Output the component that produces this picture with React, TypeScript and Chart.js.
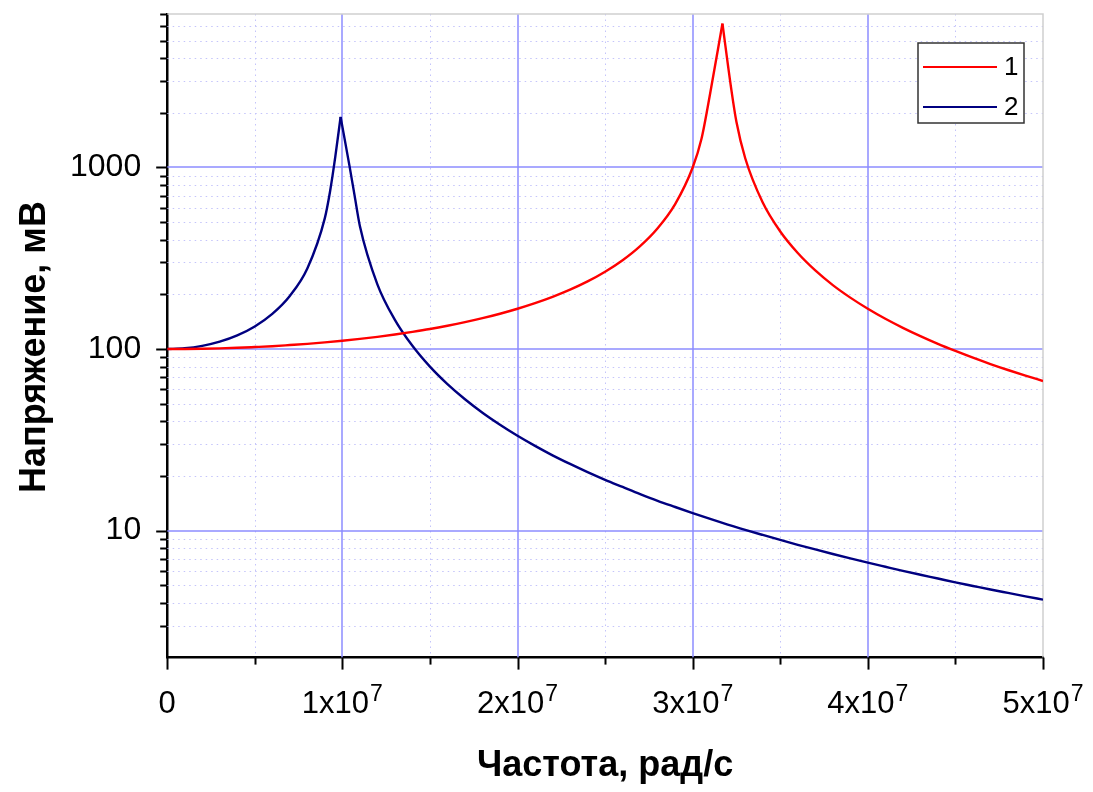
import React, { useEffect, useRef } from 'react';
import { Chart, registerables } from 'chart.js';

Chart.register(...registerables);

// Frequencies in units of 10^6 rad/s
const freq1M = [
  0, 1, 2, 3, 4, 5, 6, 7, 8, 9, 10, 11, 12, 13, 14, 15, 16, 17, 18, 19, 20,
  21, 22, 23, 24, 25, 26, 27, 28, 29, 30, 30.5, 31, 31.7, 32.2, 32.5, 33, 34,
  35, 36, 37, 38, 39, 40, 41, 42, 43, 44, 45, 46, 47, 48, 49, 50,
];
// Voltage, mV (curve 1)
const volt1 = [
  100, 100.1, 100.4, 100.9, 101.6, 102.6, 103.7, 105.2, 106.8, 108.8, 111.1,
  113.8, 116.8, 120.3, 124.4, 129.0, 134.4, 140.6, 147.9, 156.5, 166.7, 178.9,
  193.8, 212.3, 235.8, 266.7, 308.6, 369.0, 463.0, 628.9, 1000, 1434, 2564,
  6200, 2714, 1778, 1124, 641, 444, 338, 271, 225, 192, 166.7, 146.8, 130.9,
  117.8, 106.8, 97.6, 89.6, 82.7, 76.7, 71.4, 66.7,
];

const freq2M = [
  0, 1, 2, 3, 4, 5, 6, 7, 8, 9, 9.3, 9.6, 9.9, 10.4, 10.7, 11, 12, 13, 14, 15,
  16, 17, 18, 19, 20, 21, 22, 23, 24, 25, 26, 27, 28, 29, 30, 31, 32, 33, 34,
  35, 36, 37, 38, 39, 40, 41, 42, 43, 44, 45, 46, 47, 48, 49, 50,
];
// Voltage, mV (curve 2)
const volt2 = [
  100, 101.0, 104.2, 109.9, 119.0, 133.3, 156.3, 196.1, 277.8, 526.3, 740,
  1150, 1900, 1030, 700, 476.2, 227.3, 144.9, 104.2, 80.0, 64.1, 52.9, 44.6,
  38.3, 33.3, 29.3, 26.0, 23.3, 21.0, 19.05, 17.4, 15.9, 14.6, 13.5, 12.5,
  11.6, 10.8, 10.1, 9.47, 8.89, 8.36, 7.88, 7.44, 7.04, 6.67, 6.33, 6.01, 5.72,
  5.45, 5.19, 4.96, 4.74, 4.54, 4.35, 4.17,
];

const seriesLabels = ['1', '2'];
const seriesColors = ['#ff0000', '#000080'];
const xMajorTicks = [0, 1e7, 2e7, 3e7, 4e7, 5e7];
const xMinorTicks = [5e6, 1.5e7, 2.5e7, 3.5e7, 4.5e7];
const xTickBases = ['0', '1x10', '2x10', '3x10', '4x10', '5x10'];
const xTickExps = ['', '7', '7', '7', '7', '7'];
const yMajorTicks = [10, 100, 1000];
const yMinorTicks = [
  2, 3, 4, 5, 6, 7, 8, 9, 20, 30, 40, 50, 60, 70, 80, 90, 200, 300, 400, 500,
  600, 700, 800, 900, 2000, 3000, 4000, 5000, 6000, 7000,
];
const xTitle = 'Частота, рад/с';
const yTitle = 'Напряжение, мВ';

const FONT = "'Liberation Sans', Arial, Helvetica, sans-serif";

const isPow10 = (v: number) => {
  const l = Math.log10(v);
  return Math.abs(l - Math.round(l)) < 1e-9;
};

// Split a curve at its resonance peak so the peak stays pointed
// (each side drawn with monotone interpolation, sharing the peak point).
function splitAtPeak(freqM: number[], volt: number[]) {
  const pts = freqM.map((f, i) => ({ x: f * 1e6, y: volt[i] }));
  let k = 0;
  volt.forEach((v, i) => {
    if (v > volt[k]) k = i;
  });
  return [pts.slice(0, k + 1), pts.slice(k)];
}

const decorPlugin = {
  id: 'decor',
  beforeDatasetsDraw(chart: any) {
    const { ctx, chartArea } = chart;
    const xs = chart.scales.x;
    const ys = chart.scales.y;
    const { left, right, top, bottom } = chartArea;
    ctx.save();
    // minor dotted grid
    ctx.strokeStyle = 'rgb(196,196,250)';
    ctx.lineWidth = 1;
    ctx.setLineDash([1.5, 4]);
    xMinorTicks.forEach((v) => {
      const x = Math.round(xs.getPixelForValue(v)) + 0.5;
      ctx.beginPath();
      ctx.moveTo(x, top);
      ctx.lineTo(x, bottom);
      ctx.stroke();
    });
    yMinorTicks.forEach((v) => {
      const y = Math.round(ys.getPixelForValue(v)) + 0.5;
      if (y < top + 2 || y > bottom) return;
      ctx.beginPath();
      ctx.moveTo(left, y);
      ctx.lineTo(right, y);
      ctx.stroke();
    });
    // major grid
    ctx.setLineDash([]);
    ctx.strokeStyle = 'rgb(140,140,255)';
    ctx.lineWidth = 1.5;
    xMajorTicks.slice(1, -1).forEach((v) => {
      const x = Math.round(xs.getPixelForValue(v));
      ctx.beginPath();
      ctx.moveTo(x, top);
      ctx.lineTo(x, bottom);
      ctx.stroke();
    });
    yMajorTicks.forEach((v) => {
      const y = Math.round(ys.getPixelForValue(v));
      ctx.beginPath();
      ctx.moveTo(left, y);
      ctx.lineTo(right, y);
      ctx.stroke();
    });
    // top and right frame
    ctx.strokeStyle = '#cfcfcf';
    ctx.lineWidth = 1.5;
    ctx.beginPath();
    ctx.moveTo(left, top);
    ctx.lineTo(right, top);
    ctx.lineTo(right, bottom);
    ctx.stroke();
    ctx.restore();
  },
  afterDraw(chart: any) {
    const { ctx, chartArea } = chart;
    const xs = chart.scales.x;
    const ys = chart.scales.y;
    const { left, right, top, bottom } = chartArea;
    ctx.save();
    ctx.strokeStyle = '#000';
    ctx.lineWidth = 2;
    // y ticks (outward, left)
    yMajorTicks.forEach((v) => {
      const y = Math.round(ys.getPixelForValue(v)) + 0.5;
      ctx.beginPath();
      ctx.moveTo(left, y);
      ctx.lineTo(left - 11, y);
      ctx.stroke();
    });
    yMinorTicks.forEach((v) => {
      const y = Math.round(ys.getPixelForValue(v)) + 0.5;
      if (y < top - 1 || y > bottom) return;
      ctx.beginPath();
      ctx.moveTo(left, y);
      ctx.lineTo(left - 7, y);
      ctx.stroke();
    });
    // x ticks (outward, down)
    xMajorTicks.forEach((v) => {
      const x = Math.round(xs.getPixelForValue(v)) + 0.5;
      ctx.beginPath();
      ctx.moveTo(x, bottom);
      ctx.lineTo(x, bottom + 12);
      ctx.stroke();
    });
    xMinorTicks.forEach((v) => {
      const x = Math.round(xs.getPixelForValue(v)) + 0.5;
      ctx.beginPath();
      ctx.moveTo(x, bottom);
      ctx.lineTo(x, bottom + 7);
      ctx.stroke();
    });
    // x tick labels with superscript exponent
    ctx.fillStyle = '#000';
    ctx.textBaseline = 'alphabetic';
    ctx.textAlign = 'left';
    const baseFont = `31px ${FONT}`;
    const expFont = `23px ${FONT}`;
    xMajorTicks.forEach((v, i) => {
      const x = xs.getPixelForValue(v);
      ctx.font = baseFont;
      const wb = ctx.measureText(xTickBases[i]).width;
      ctx.font = expFont;
      const we = xTickExps[i] ? ctx.measureText(xTickExps[i]).width + 1 : 0;
      const x0 = x - (wb + we) / 2;
      ctx.font = baseFont;
      ctx.fillText(xTickBases[i], x0, bottom + 55);
      if (xTickExps[i]) {
        ctx.font = expFont;
        ctx.fillText(xTickExps[i], x0 + wb + 1, bottom + 43);
      }
    });
    // y axis title
    ctx.save();
    ctx.translate(35, 347);
    ctx.rotate(-Math.PI / 2);
    ctx.font = `bold 36px ${FONT}`;
    ctx.textAlign = 'center';
    ctx.textBaseline = 'middle';
    ctx.fillText(yTitle, 0, 0);
    ctx.restore();
    // legend
    const bx = right - 125;
    const by = top + 29;
    const bw = 106;
    const bh = 80;
    ctx.fillStyle = '#fff';
    ctx.fillRect(bx, by, bw, bh);
    ctx.strokeStyle = '#333';
    ctx.lineWidth = 1.5;
    ctx.strokeRect(bx, by, bw, bh);
    ctx.font = `26px ${FONT}`;
    ctx.textBaseline = 'middle';
    ctx.textAlign = 'left';
    seriesLabels.forEach((label, i) => {
      const yy = by + 24 + i * 40;
      ctx.strokeStyle = seriesColors[i];
      ctx.lineWidth = 2;
      ctx.beginPath();
      ctx.moveTo(bx + 5, yy);
      ctx.lineTo(bx + 79, yy);
      ctx.stroke();
      ctx.fillStyle = '#000';
      ctx.fillText(label, bx + 86, yy + 1);
    });
    ctx.restore();
  },
};

export default function App() {
  const ref = useRef<HTMLCanvasElement | null>(null);
  useEffect(() => {
    if (!ref.current) return;
    const curves = [splitAtPeak(freq1M, volt1), splitAtPeak(freq2M, volt2)];
    const datasets: any[] = [];
    curves.forEach((parts, ci) => {
      parts.forEach((pts) => {
        datasets.push({
          label: seriesLabels[ci],
          data: pts,
          borderColor: seriesColors[ci],
          borderWidth: 2.4,
          pointRadius: 0,
          cubicInterpolationMode: 'monotone',
          fill: false,
        });
      });
    });
    const chart = new Chart(ref.current, {
      type: 'line',
      data: { datasets },
      options: {
        animation: false,
        responsive: true,
        maintainAspectRatio: false,
        layout: { padding: { top: 14, right: 50, left: 70, bottom: 0 } },
        plugins: {
          legend: { display: false },
          tooltip: { enabled: false },
        },
        scales: {
          x: {
            type: 'linear',
            min: 0,
            max: 5e7,
            border: { display: true, color: '#000', width: 2.5 },
            grid: {
              color: 'rgba(0,0,0,0)',
              drawTicks: true,
              tickLength: 26,
              tickColor: 'rgba(0,0,0,0)',
            },
            ticks: {
              stepSize: 1e7,
              maxRotation: 0,
              autoSkip: false,
              padding: 0,
              color: 'rgba(0,0,0,0)',
              font: { family: FONT, size: 31 },
              callback: (v: any) =>
                v === 0 ? '0' : `${Math.round(Number(v) / 1e7)}x10\u2077`,
            },
            title: {
              display: true,
              text: xTitle,
              color: '#000',
              font: { family: FONT, size: 36, weight: 'bold' },
              padding: { top: 24, bottom: 4 },
            },
          },
          y: {
            type: 'logarithmic',
            min: 2,
            max: 7000,
            border: { display: true, color: '#000', width: 2.5 },
            grid: {
              color: 'rgba(0,0,0,0)',
              drawTicks: true,
              tickLength: 26,
              tickColor: 'rgba(0,0,0,0)',
            },
            ticks: {
              autoSkip: false,
              padding: 0,
              color: '#000',
              font: { family: FONT, size: 32, lineHeight: 0.8 },
              callback: (v: any) =>
                isPow10(Number(v)) && Number(v) >= 10 ? String(Math.round(Number(v))) : '',
            },
            title: { display: false, text: yTitle },
          },
        },
      },
      plugins: [decorPlugin],
    });
    return () => chart.destroy();
  }, []);
  return (
    <div style={{ position: 'absolute', left: 0, top: 0, width: 1093, height: 792 }}>
      <canvas ref={ref} />
    </div>
  );
}
